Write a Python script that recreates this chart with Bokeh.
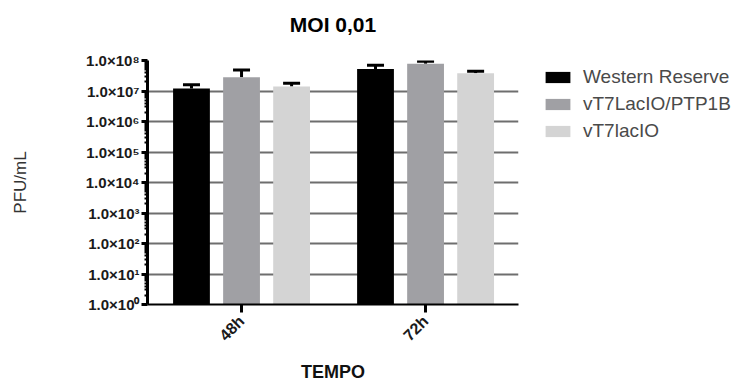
import math
from bokeh.plotting import figure
from bokeh.models import (ColumnDataSource, FixedTicker, Whisker, TeeHead,
                          Legend, LegendItem, Title)
from bokeh.embed import file_html
from bokeh.resources import INLINE

# ---- data ----
times = ["48h", "72h"]
series = ["Western Reserve", "vT7LacIO/PTP1B", "vT7lacIO"]
western_reserve = [1.2e7, 5.3e7]
western_reserve_err = [0.4e7, 1.7e7]
ptp1b = [2.8e7, 7.8e7]
ptp1b_err = [2.1e7, 1.7e7]
laclo = [1.4e7, 3.8e7]
laclo_err = [0.4e7, 0.6e7]
colors = ["#000000", "#a0a0a4", "#d4d4d4"]
y_tick_values = [1e0, 1e1, 1e2, 1e3, 1e4, 1e5, 1e6, 1e7, 1e8]
y_tick_labels = ["1.0×10⁰", "1.0×10¹", "1.0×10²", "1.0×10³", "1.0×10⁴",
                 "1.0×10⁵", "1.0×10⁶", "1.0×10⁷", "1.0×10⁸"]
chart_title = "MOI 0,01"

FONT = "Liberation Sans"

p = figure(frame_width=371, frame_height=244, output_backend="svg",
           toolbar_location=None,
           y_axis_type="log", x_range=(0.489, 2.505), y_range=(1, 1e8),
           min_border_left=147, min_border_right=224, min_border_top=60,
           min_border_bottom=82)
p.outline_line_color = None
p.background_fill_color = "white"
p.border_fill_color = "white"
p.title.visible = False

# spacer (first added = nearest the frame): a blank, white text
p.add_layout(Title(text=" ", text_font_size="1px", text_color="#ffffff",
                   standoff=22), "above")
# real title, placed above the spacer
p.add_layout(Title(text=chart_title, align="center", text_font=FONT,
                   text_font_size="21px", text_font_style="bold",
                   text_color="#000000", standoff=0), "above")

offsets = [-0.272, 0.0, 0.272]
vals = [western_reserve, ptp1b, laclo]
errs = [western_reserve_err, ptp1b_err, laclo_err]
renderers = []
for k in range(3):
    xs = [i + 1 + offsets[k] for i in range(len(times))]
    tops = vals[k]
    caps = [v + e for v, e in zip(vals[k], errs[k])]
    src = ColumnDataSource(dict(x=xs, top=tops, cap=caps))
    wsk = Whisker(source=src, base="x", lower="top", upper="cap",
                  dimension="height", line_color="black", line_width=3,
                  lower_head=None,
                  upper_head=TeeHead(size=17, line_width=3, line_color="black"))
    p.add_layout(wsk)
    r = p.vbar(x="x", top="top", bottom=1, width=0.2, source=src,
               fill_color=colors[k], line_color=None)
    renderers.append(r)

# grid
p.xgrid.grid_line_color = None
p.ygrid.grid_line_color = "#6e6e6e"
p.ygrid.grid_line_width = 2
p.ygrid.ticker = FixedTicker(ticks=y_tick_values)

# y axis
yax = p.yaxis[0]
minor = [m * 10 ** n for n in range(0, 8) for m in range(2, 10)]
yax.ticker = FixedTicker(ticks=y_tick_values, minor_ticks=minor)
yax.major_label_overrides = {v: l for v, l in zip(y_tick_values, y_tick_labels)}
yax.axis_line_color = "black"
yax.axis_line_width = 3
yax.major_tick_line_color = "black"
yax.major_tick_line_width = 3
yax.major_tick_out = 6
yax.major_tick_in = 0
yax.minor_tick_line_color = "black"
yax.minor_tick_line_width = 2
yax.minor_tick_out = 3
yax.minor_tick_in = 0
yax.major_label_text_font = FONT
yax.major_label_text_font_size = "15px"
yax.major_label_text_font_style = "bold"
yax.major_label_text_color = "#1a1a1a"
yax.major_label_standoff = 2
yax.axis_label = "PFU/mL"
yax.axis_label_text_font = FONT
yax.axis_label_text_font_size = "17px"
yax.axis_label_text_font_style = "normal"
yax.axis_label_text_color = "#333333"
yax.axis_label_standoff = 53

# x axis
xax = p.xaxis[0]
xax.ticker = FixedTicker(ticks=[1, 2])
xax.major_label_overrides = {1: times[0], 2: times[1]}
xax.major_label_orientation = math.pi / 4
xax.axis_line_color = "black"
xax.axis_line_width = 2
xax.major_tick_line_color = "black"
xax.major_tick_line_width = 3
xax.major_tick_out = 8
xax.major_tick_in = 0
xax.minor_tick_line_color = None
xax.major_label_text_font = FONT
xax.major_label_text_font_size = "16px"
xax.major_label_text_font_style = "bold"
xax.major_label_text_color = "#1a1a1a"
xax.major_label_standoff = 6
xax.axis_label = "TEMPO"
xax.axis_label_text_font = FONT
xax.axis_label_text_font_size = "18px"
xax.axis_label_text_font_style = "bold"
xax.axis_label_text_color = "#111111"
xax.axis_label_standoff = 9

legend = Legend(items=[LegendItem(label=series[k], renderers=[renderers[k]])
                       for k in range(3)],
                location=(24, 162), orientation="vertical",
                glyph_width=31, glyph_height=14, label_height=14,
                label_standoff=10, spacing=5, padding=0, margin=0,
                border_line_color=None, background_fill_alpha=0,
                label_text_font=FONT, label_text_font_size="19px",
                label_text_color="#4a4a4a")
p.add_layout(legend, "right")

open("out.html", "w").write(file_html(p, INLINE))
